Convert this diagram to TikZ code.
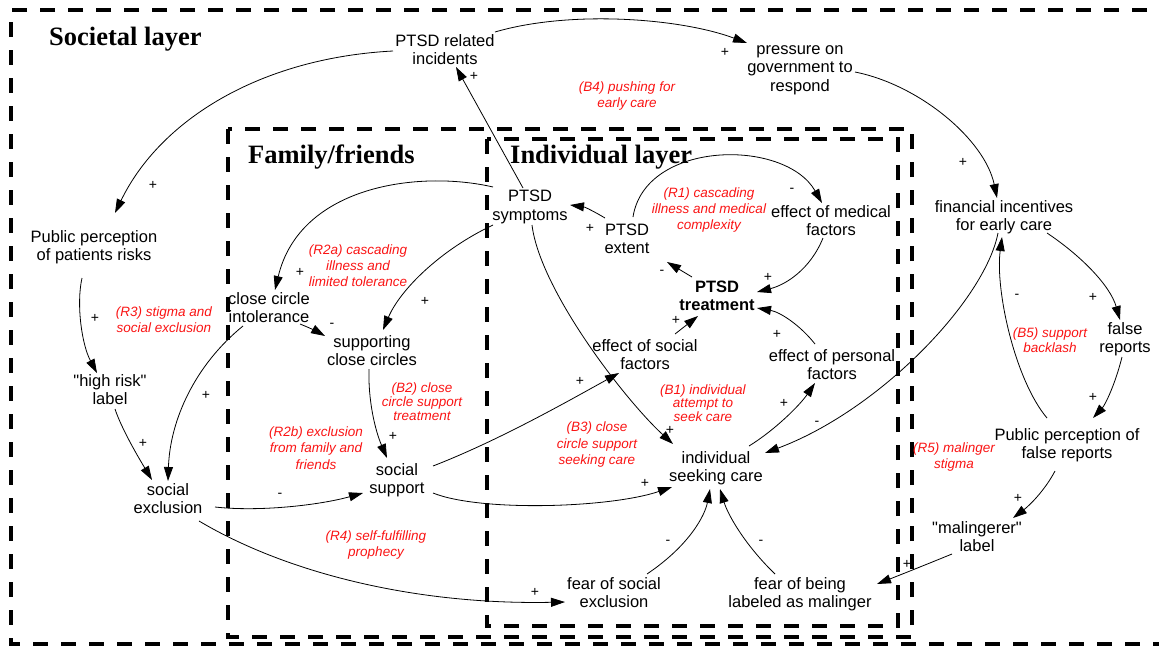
\documentclass[tikz,border=0pt]{standalone}
\usepackage{fontspec}
\setmainfont{Liberation Sans}[Ligatures=TeXOff]
\newfontfamily\headfont{Liberation Serif}
\usetikzlibrary{arrows.meta,calc}
\definecolor{loopred}{RGB}{250,20,20}
\newcommand{\vstrut}{\rule[-2.55pt]{0pt}{18.5pt}}
\tikzset{
  var/.style={font=\fontsize{16.5}{18.5}\selectfont, align=center, inner sep=1pt,
    execute at begin node=\vstrut, execute at end node=\vstrut},
  loopl/.style={font=\fontsize{13.5}{16}\selectfont\itshape, text=loopred, align=center, inner sep=0pt},
  sgn/.style={font=\fontsize{14}{14}\selectfont, inner sep=0pt},
  arr/.style={-{Triangle[length=14pt,width=9pt]}, line width=0.8pt},
  layer/.style={dash pattern=on 15pt off 13pt, line width=4pt},
  head/.style={font=\headfont\bfseries\fontsize{26.5}{30}\selectfont, anchor=base west, inner sep=0pt}
}
\begin{document}
\begin{tikzpicture}[x=1pt,y=-1pt]
\useasboundingbox (0,0) rectangle (1159,646);
% layer boxes
\draw[layer] (1175,10) -- (11,10) -- (11,644) -- (1175,644);
\draw[layer] (228,129) rectangle (912,637);
\draw[layer] (487,139) rectangle (898,626);
% headings
\node[head] (hsoc) at (49,45) {Societal layer};
\node[head] (hfam) at (248,163) {Family/friends};
\node[head] (hind) at (510,163) {Individual layer};
% variables
\node[var] (inc) at (445,51) {PTSD related\\incidents};
\node[var] (pres) at (800,70) {pressure on\\government to\\respond};
\node[var] (ppr) at (94,247) {Public perception\\of patients risks};
\node[var] (cci) at (269,309) {close circle\\intolerance};
\node[var] (scc) at (372,352) {supporting\\close circles};
\node[var] (hrl) at (110,391) {"high risk"\\label};
\node[var] (sex) at (168,500) {social\\exclusion};
\node[var] (ss) at (397,480) {social\\support};
\node[var] (sym) at (530,207) {PTSD\\symptoms};
\node[var] (ext) at (627,240) {PTSD\\extent};
\node[var] (emf) at (831,222) {effect of medical\\factors};
\node[var, font=\fontsize{16.5}{18.5}\selectfont\bfseries] (trt) at (717,297) {PTSD\\treatment};
\node[var] (esf) at (645,356) {effect of social\\factors};
\node[var] (epf) at (832,366) {effect of personal\\factors};
\node[var] (isc) at (716,468) {individual\\seeking care};
\node[var] (fse) at (614,594) {fear of social\\exclusion};
\node[var] (fbl) at (800,594) {fear of being\\labeled as malinger};
\node[var] (fin) at (1004,217) {financial incentives\\for early care};
\node[var] (fr) at (1125,339) {false\\reports};
\node[var] (ppf) at (1067,445) {Public perception of\\false reports};
\node[var] (mal) at (977,538) {"malingerer"\\label};
% loop labels
\node[loopl] (lB4) at (627,96) {(B4) pushing for\\early care};
\node[loopl] (lR1) at (709,210) {(R1) cascading\\illness and medical\\complexity};
\node[loopl] (lR2a) at (358,266) {(R2a) cascading\\illness and\\limited tolerance};
\node[loopl] (lR3) at (164,320) {(R3) stigma and\\social exclusion};
\node[loopl, font=\fontsize{13.5}{14}\selectfont\itshape] (lB2) at (422,402) {(B2) close\\circle support\\treatment};
\node[loopl, font=\fontsize{13.5}{16.5}\selectfont\itshape] (lR2b) at (316,448) {(R2b) exclusion\\from family and\\friends};
\node[loopl, font=\fontsize{13.5}{13.5}\selectfont\itshape] (lB1) at (703,403) {(B1) individual\\attempt to\\seek care};
\node[loopl, font=\fontsize{13.5}{16.5}\selectfont\itshape] (lB3) at (597,445) {(B3) close\\circle support\\seeking care};
\node[loopl] (lR4) at (376,545) {(R4) self-fulfilling\\prophecy};
\node[loopl, font=\fontsize{13.5}{15}\selectfont\itshape] (lB5) at (1050,340) {(B5) support\\backlash};
\node[loopl] (lR5) at (954,457) {(R5) malinger\\stigma};
% connectors
\draw[arr] ($(inc)+(-52,0)$) .. controls (260,58) and (160,120) .. ($(ppr)+(21,-34)$);
\draw[arr] ($(inc)+(50,-19)$) .. controls (570,10) and (680,18) .. ($(pres)+(-53,-27)$);
\draw[arr] ($(pres)+(55,2)$) .. controls (920,85) and (985,140) .. ($(fin)+(-7,-19)$);
\draw[arr] ($(sym)+(-7,-19)$) -- ($(inc)+(11,16)$);
\draw[arr] ($(ppr)+(-12,31)$) .. controls (76,305) and (82,345) .. ($(hrl)+(-13,-18)$);
\draw[arr] ($(hrl)+(5,18)$) .. controls (122,430) and (140,460) .. ($(sex)+(-16,-20)$);
\draw[arr] ($(cci)+(-26,17)$) .. controls (195,365) and (170,420) .. ($(sex)+(0,-19)$);
\draw[arr] ($(cci)+(31,15)$) .. controls (310,328) and (318,332) .. ($(scc)+(-47,-16)$);
\draw[arr] ($(sym)+(-37,-20)$) .. controls (420,170) and (300,185) .. ($(cci)+(6,-19)$);
\draw[arr] ($(sym)+(-37,18)$) .. controls (440,250) and (400,290) .. ($(scc)+(11,-22)$);
\draw[arr] ($(scc)+(-3,17)$) .. controls (368,400) and (375,430) .. ($(ss)+(-10,-22)$);
\draw[arr] ($(sex)+(47,7)$) .. controls (260,512) and (320,505) .. ($(ss)+(-34,13)$);
\draw[arr] ($(sex)+(31,21)$) .. controls (290,575) and (420,605) .. ($(fse)+(-49,8)$);
\draw[arr] ($(ss)+(36,-14)$) .. controls (500,440) and (570,400) .. ($(esf)+(-26,17)$);
\draw[arr] ($(ss)+(36,13)$) .. controls (480,512) and (610,508) .. ($(isc)+(-44,19)$);
\draw[arr] ($(sym)+(2,18)$) .. controls (540,290) and (625,400) .. ($(isc)+(-43,-24)$);
\draw[arr] ($(ext)+(-22,-22)$) .. controls (595,212) and (585,207) .. ($(sym)+(40,-2)$);
\draw[arr] ($(ext)+(6,-23)$) .. controls (645,140) and (785,138) .. ($(emf)+(-9,-19)$);
\draw[arr] ($(emf)+(-8,16)$) .. controls (810,270) and (785,285) .. ($(trt)+(40,-5)$);
\draw[arr] ($(trt)+(-25,-20)$) -- ($(ext)+(40,22)$);
\draw[arr] ($(esf)+(30,-22)$) -- ($(trt)+(-19,19)$);
\draw[arr] ($(epf)+(-17,-22)$) .. controls (800,325) and (780,312) .. ($(trt)+(40,11)$);
\draw[arr] ($(isc)+(33,-22)$) .. controls (775,430) and (800,405) .. ($(epf)+(-17,17)$);
\draw[arr] ($(fin)+(-6,16)$) .. controls (985,300) and (880,410) .. ($(isc)+(49,-15)$);
\draw[arr] ($(fin)+(43,16)$) .. controls (1080,255) and (1110,285) .. ($(fr)+(-5,-19)$);
\draw[arr] ($(fr)+(-3,18)$) .. controls (1115,385) and (1105,405) .. ($(ppf)+(26,-27)$);
\draw[arr] ($(ppf)+(-20,-27)$) .. controls (1015,380) and (995,290) .. ($(fin)+(-2,20)$);
\draw[arr] ($(ppf)+(-12,26)$) .. controls (1045,490) and (1030,505) .. ($(mal)+(36,-20)$);
\draw[arr] ($(mal)+(-25,16)$) .. controls (925,565) and (900,575) .. ($(fbl)+(77,-10)$);
\draw[arr] ($(fse)+(33,-20)$) .. controls (690,545) and (705,515) .. ($(isc)+(-6,21)$);
\draw[arr] ($(fbl)+(-25,-20)$) .. controls (745,545) and (728,515) .. ($(isc)+(4,21)$);
% polarity signs
\node[sgn] (s1) at (153,185) {+};
\node[sgn] (s2) at (725,52) {+};
\node[sgn] (s3) at (963,162) {+};
\node[sgn] (s4) at (474,76) {+};
\node[sgn] (s5) at (95,318) {+};
\node[sgn] (s6) at (143,443) {+};
\node[sgn] (s7) at (206,395) {+};
\node[sgn] (s8) at (332,325) {-};
\node[sgn] (s9) at (300,272) {+};
\node[sgn] (s10) at (425,301) {+};
\node[sgn] (s11) at (393,436) {+};
\node[sgn] (s12) at (280,495) {-};
\node[sgn] (s13) at (535,592) {+};
\node[sgn] (s14) at (580,381) {+};
\node[sgn] (s15) at (645,483) {+};
\node[sgn] (s16) at (670,430) {+};
\node[sgn] (s17) at (590,228) {+};
\node[sgn] (s18) at (792,190) {-};
\node[sgn] (s19) at (768,277) {+};
\node[sgn] (s20) at (662,272) {-};
\node[sgn] (s21) at (676,320) {+};
\node[sgn] (s22) at (777,334) {+};
\node[sgn] (s23) at (784,403) {+};
\node[sgn] (s24) at (817,423) {-};
\node[sgn] (s25) at (1093,297) {+};
\node[sgn] (s26) at (1093,397) {+};
\node[sgn] (s27) at (1017,296) {-};
\node[sgn] (s28) at (1018,498) {+};
\node[sgn] (s29) at (907,564) {+};
\node[sgn] (s30) at (668,542) {-};
\node[sgn] (s31) at (761,542) {-};
\end{tikzpicture}
\end{document}
